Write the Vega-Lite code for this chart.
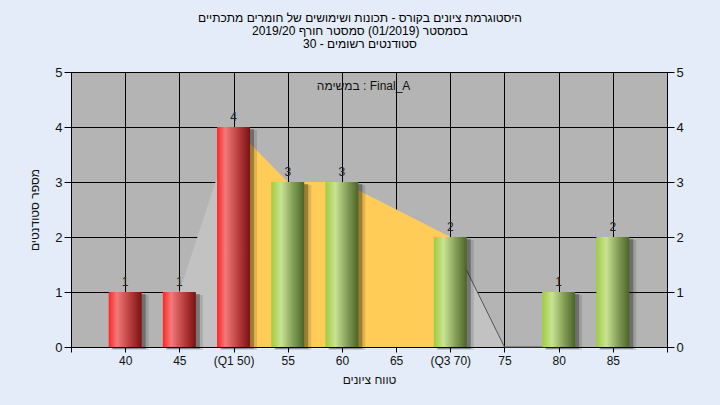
{
  "$schema": "https://vega.github.io/schema/vega-lite/v6.json",
  "width": 596,
  "height": 275,
  "autosize": {"type": "none"},
  "padding": {"left": 71, "top": 72, "right": 53, "bottom": 58},
  "background": "#e3ecf8",
  "title": {
    "text": ["היסטוגרמת ציונים בקורס - תכונות ושימושים של חומרים מתכתיים", "בסמסטר (01/2019) סמסטר חורף 2019/20", "סטודנטים רשומים - 30"],
    "fontSize": 12,
    "fontWeight": "normal",
    "color": "#000000",
    "font": "Liberation Sans",
    "lineHeight": 13,
    "offset": 15,
    "anchor": "middle",
    "dx": -9
  },
  "config": {
    "view": {"fill": "#b4b4b4", "stroke": "#000000"},
    "font": "Liberation Sans",
    "axis": {
      "domainColor": "#000000",
      "tickColor": "#000000",
      "gridColor": "#000000",
      "gridOpacity": 1,
      "labelColor": "#111111",
      "titleColor": "#111111",
      "titleFontWeight": "normal",
      "titleFontSize": 12,
      "labelFont": "Liberation Sans",
      "titleFont": "Liberation Sans",
      "labelOverlap": false,
      "labelFlush": false
    }
  },
  "datasets": {
    "bars": [
      {"score": 40, "count": 1, "grp": "low"},
      {"score": 45, "count": 1, "grp": "low"},
      {"score": 50, "count": 4, "grp": "low"},
      {"score": 55, "count": 3, "grp": "high"},
      {"score": 60, "count": 3, "grp": "high"},
      {"score": 70, "count": 2, "grp": "high"},
      {"score": 80, "count": 1, "grp": "high"},
      {"score": 85, "count": 2, "grp": "high"}
    ],
    "poly": [
      {"score": 45, "count": 1},
      {"score": 50, "count": 4},
      {"score": 55, "count": 3},
      {"score": 60, "count": 3},
      {"score": 70, "count": 2},
      {"score": 75, "count": 0}
    ],
    "iqr": [
      {"score": 50, "count": 4},
      {"score": 55, "count": 3},
      {"score": 60, "count": 3},
      {"score": 70, "count": 2}
    ],
    "tail": [
      {"score": 70, "count": 2},
      {"score": 75, "count": 0},
      {"score": 80, "count": 0}
    ],
    "note": [
      {"score": 62, "count": 4.75, "text": "במשימה : Final_A"}
    ]
  },
  "resolve": {"axis": {"y": "independent"}},
  "layer": [
    {
      "data": {"name": "poly"},
      "mark": {"type": "area", "color": "#c2c2c2"},
      "encoding": {
        "x": {
          "field": "score", "type": "quantitative",
          "scale": {"domain": [35, 90], "nice": false, "zero": false, "padding": 0},
          "axis": {
            "values": [35, 40, 45, 50, 55, 60, 65, 70, 75, 80, 85, 90],
            "labelExpr": "datum.value == 35 || datum.value == 90 ? '' : datum.value == 50 ? '(Q1 50)' : datum.value == 70 ? '(Q3 70)' : datum.label",
            "title": "טווח ציונים",
            "titlePadding": 8,
            "labelFontSize": 12,
            "tickSize": 5,
            "labelPadding": 3,
            "grid": true
          }
        },
        "y": {
          "field": "count", "type": "quantitative",
          "scale": {"domain": [0, 5], "nice": false},
          "axis": {
            "orient": "left",
            "values": [0, 1, 2, 3, 4, 5],
            "title": "מספר סטודנטים",
            "titlePadding": 13,
            "labelFontSize": 13,
            "tickSize": 7,
            "labelPadding": 2,
            "grid": true
          }
        }
      }
    },
    {
      "data": {"name": "iqr"},
      "mark": {"type": "area", "color": "#ffcc58"},
      "encoding": {
        "x": {"field": "score", "type": "quantitative"},
        "y": {"field": "count", "type": "quantitative", "axis": null}
      }
    },
    {
      "data": {"name": "tail"},
      "mark": {"type": "line", "color": "#555555", "strokeWidth": 1},
      "encoding": {
        "x": {"field": "score", "type": "quantitative"},
        "y": {"field": "count", "type": "quantitative", "axis": null}
      }
    },
    {
      "data": {"name": "bars"},
      "mark": {"type": "bar", "size": 37, "color": "#000000", "opacity": 0.12, "xOffset": 5, "yOffset": 3},
      "encoding": {
        "x": {"field": "score", "type": "quantitative"},
        "y": {"field": "count", "type": "quantitative", "axis": null}
      }
    },
    {
      "data": {"name": "bars"},
      "mark": {"type": "bar", "size": 33, "color": "#000000", "opacity": 0.3, "xOffset": 4, "yOffset": 2},
      "encoding": {
        "x": {"field": "score", "type": "quantitative"},
        "y": {"field": "count", "type": "quantitative", "axis": null}
      }
    },
    {
      "data": {"name": "bars"},
      "transform": [{"filter": "datum.grp == 'low'"}],
      "mark": {
        "type": "bar", "size": 33,
        "fill": {"gradient": "linear", "x1": 0, "x2": 1, "y1": 0, "y2": 0,
          "stops": [
            {"offset": 0, "color": "#ff2424"},
            {"offset": 0.25, "color": "#f27a7a"},
            {"offset": 0.65, "color": "#b83c3c"},
            {"offset": 1, "color": "#7a1212"}
          ]}
      },
      "encoding": {
        "x": {"field": "score", "type": "quantitative"},
        "y": {"field": "count", "type": "quantitative", "axis": null}
      }
    },
    {
      "data": {"name": "bars"},
      "transform": [{"filter": "datum.grp == 'high'"}],
      "mark": {
        "type": "bar", "size": 33,
        "fill": {"gradient": "linear", "x1": 0, "x2": 1, "y1": 0, "y2": 0,
          "stops": [
            {"offset": 0, "color": "#9fcc3e"},
            {"offset": 0.3, "color": "#c9e394"},
            {"offset": 0.65, "color": "#86a05a"},
            {"offset": 1, "color": "#4a6426"}
          ]}
      },
      "encoding": {
        "x": {"field": "score", "type": "quantitative"},
        "y": {"field": "count", "type": "quantitative",
          "axis": {
            "orient": "right",
            "values": [0, 1, 2, 3, 4, 5],
            "title": null,
            "labelFontSize": 13,
            "tickSize": 7,
            "labelPadding": 2,
            "grid": false
          }
        }
      }
    },
    {
      "data": {"name": "bars"},
      "mark": {"type": "text", "fontSize": 12, "color": "#222222", "baseline": "alphabetic", "dy": -6},
      "encoding": {
        "x": {"field": "score", "type": "quantitative"},
        "y": {"field": "count", "type": "quantitative", "axis": null},
        "text": {"field": "count", "type": "quantitative"}
      }
    },
    {
      "data": {"name": "note"},
      "mark": {"type": "text", "fontSize": 12, "color": "#111111", "baseline": "middle", "align": "center"},
      "encoding": {
        "x": {"field": "score", "type": "quantitative"},
        "y": {"field": "count", "type": "quantitative", "axis": null},
        "text": {"field": "text"}
      }
    }
  ]
}
